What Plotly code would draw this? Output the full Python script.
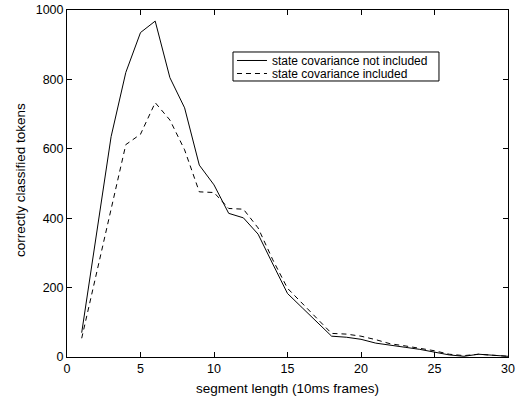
import plotly.graph_objects as go

seg_len = list(range(1, 31))
not_included = [70, 350, 635, 820, 935, 968, 805, 718, 553, 496,
                414, 401, 354, 268, 183, 142, 101, 60, 57, 51,
                40, 33, 28, 22, 15, 6, 2, 8, 5, 2]
included = [54, 240, 425, 612, 642, 733, 683, 597, 476, 474,
            428, 426, 372, 280, 198, 155, 112, 68, 66, 60,
            50, 38, 32, 25, 18, 8, 4, 8, 4, 2]

x_ticks = [0, 5, 10, 15, 20, 25, 30]
y_ticks = [0, 200, 400, 600, 800, 1000]

FONT = "Liberation Sans, Arial, Helvetica, sans-serif"
TITLE = dict(family=FONT, size=13.5, color="black")
LEGF = dict(family=FONT, size=12, color="black")

fig = go.Figure()
fig.add_trace(go.Scatter(x=seg_len, y=not_included, mode="lines",
                         name="state covariance not included", legend="legend",
                         line=dict(color="black", width=1)))
fig.add_trace(go.Scatter(x=seg_len, y=included, mode="lines",
                         name="state covariance included", legend="legend2",
                         line=dict(color="black", width=1, dash="5px,4px")))

axis_common = dict(showline=True, linecolor="black", linewidth=1, mirror="ticks",
                   ticks="inside", ticklen=5, tickcolor="black", showgrid=False,
                   zeroline=False, automargin=False,
                   tickfont=dict(family=FONT, size=12.5, color="black"))

fig.update_xaxes(range=[0, 30], tickvals=x_ticks, **axis_common)
fig.update_yaxes(range=[0, 1000], tickvals=y_ticks, **axis_common)

leg_common = dict(xanchor="left", yanchor="middle", borderwidth=0,
                  bgcolor="rgba(0,0,0,0)", itemwidth=30, font=LEGF)

fig.update_layout(
    template="none",
    width=519, height=399,
    margin=dict(l=67, r=11, t=10, b=42, autoexpand=False),
    paper_bgcolor="white", plot_bgcolor="white",
    font=TITLE,
    showlegend=True,
    legend=dict(x=0.3741, y=0.8545, **leg_common),
    legend2=dict(x=0.3741, y=0.8170, **leg_common),
    shapes=[dict(type="rect", xref="paper", yref="paper",
                 x0=0.3764, x1=0.8435, y0=0.7954, y1=0.879,
                 line=dict(color="black", width=1), fillcolor="rgba(0,0,0,0)",
                 layer="above")],
    annotations=[
        dict(text="segment length (10ms frames)", xref="paper", yref="paper",
             x=0.5, y=-0.092, xanchor="center", yanchor="middle",
             showarrow=False, font=TITLE),
        dict(text="correctly classified tokens", xref="paper", yref="paper",
             x=-0.1066, y=0.51, xanchor="center", yanchor="middle",
             textangle=-90, showarrow=False, font=TITLE),
    ],
)

fig.write_html("out.html", config={"displayModeBar": False},
               post_script="document.body.style.margin='0';document.body.style.padding='0';")
